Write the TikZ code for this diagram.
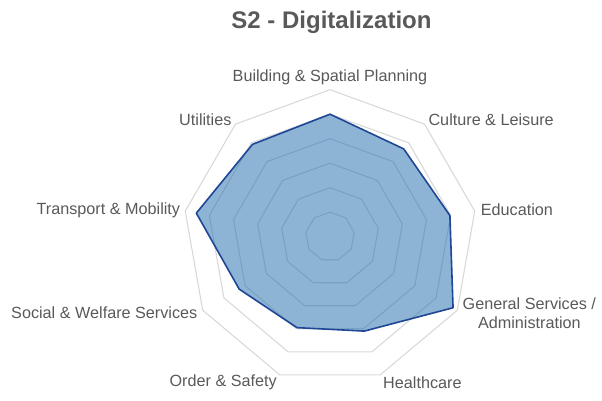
\documentclass[tikz,border=0pt]{standalone}
\usepackage{fontspec}
\setmainfont{Liberation Sans}
\usepackage{tikz}
\usetikzlibrary{positioning}

\definecolor{gridgrey}{RGB}{217,217,217}
\definecolor{textgrey}{RGB}{89,89,89}
\definecolor{areablue}{RGB}{28,106,172}
\definecolor{lineblue}{RGB}{32,70,150}

\tikzset{
  ring/.style={draw=gridgrey, line width=1.1pt},
  axislabel/.style={text=textgrey, font=\fontsize{16.2}{19}\selectfont, inner sep=0pt, align=center},
  area/.style={fill=areablue, fill opacity=0.5},
  arealine/.style={draw=lineblue, line width=1.6pt, line join=round}
}

\begin{document}
\begin{tikzpicture}[x=1pt,y=1pt]
  \useasboundingbox (-330,-164.3) rectangle (272,236.7);

  % title
  \node[text=textgrey, font=\fontsize{24}{28}\selectfont\bfseries] (title) at (1.5,214.5) {S2 - Digitalization};

  % grid
  \foreach \k in {1,...,6}{
    \draw[ring] (90:24.5*\k) \foreach \a in {1,...,8}{ -- (90-40*\a:24.5*\k)} -- cycle;
  }

  % data points
  \foreach \v [count=\i] in {5.0,4.68,4.97,5.8,4.1,3.95,4.28,5.54,4.92}{
    \coordinate (p\i) at (130-40*\i:24.5*\v);
  }
  \path[area] (p1)--(p2)--(p3)--(p4)--(p5)--(p6)--(p7)--(p8)--(p9)--cycle;
  \draw[arealine] (p1)--(p2)--(p3)--(p4)--(p5)--(p6)--(p7)--(p8)--(p9)--cycle;

  % axis labels
  \node[axislabel, anchor=south] (building) at (90:152) {Building \& Spatial Planning};
  \node[axislabel, anchor=west] (culture) at (50:153) {Culture \& Leisure};
  \node[axislabel, anchor=west] (education) at (10:153) {Education};
  \node[axislabel, anchor=west] (general) at (-30:153) {General Services /\\Administration};
  \node[axislabel, anchor=west] (health) at (-70:155) {Healthcare};
  \node[axislabel, anchor=east] (order) at (-110:155) {Order \& Safety};
  \node[axislabel, anchor=east] (social) at (-150:153) {Social \& Welfare Services};
  \node[axislabel, anchor=east] (transport) at (170:152) {Transport \& Mobility};
  \node[axislabel, anchor=east] (utilities) at (130:153) {Utilities};
\end{tikzpicture}
\end{document}
